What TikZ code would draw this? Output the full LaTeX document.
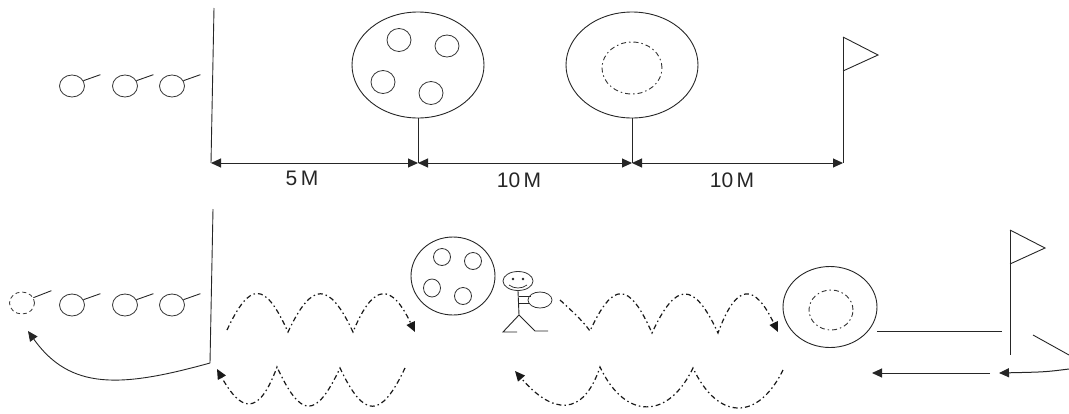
\documentclass[tikz,border=0pt]{standalone}
\usepackage{fontspec}
\setmainfont{Liberation Sans}
\usetikzlibrary{arrows.meta,shapes.geometric}
\begin{document}
\begin{tikzpicture}[x=1pt,y=-1pt,
  color=black!85,
  line width=0.9pt,
  ball/.style={ellipse, draw=black!80, line width=0.8pt, inner sep=0pt,
               minimum width=25pt, minimum height=22pt},
  ghost/.style={ball, dash pattern=on 4pt off 3pt},
  bigring/.style={ellipse, draw=black!85, line width=0.9pt, inner sep=0pt},
  cone/.style={ellipse, draw=black!80, line width=0.9pt, inner sep=0pt,
               dash pattern=on 5pt off 3pt on 1.5pt off 3pt},
  dots/.style={ellipse, draw=black!80, line width=0.8pt, inner sep=0pt},
  run/.style={line width=1.2pt, draw=black!90,
              dash pattern=on 5pt off 3pt on 1.5pt off 3pt},
  arrowend/.style={-{Triangle[length=10pt,width=9pt]}},
  dim/.style={{Triangle[length=10pt,width=9pt]}-{Triangle[length=10pt,width=9pt]},
              line width=1pt},
  lbl/.style={font=\fontsize{21}{21}\selectfont, text=black!85, inner sep=0pt}
]
\useasboundingbox (0,0) rectangle (1069,413);

% ---------- upper diagram: layout with distances ----------
\node[ball] (a1) at (72,86) {};
\node[ball] (a2) at (125,86) {};
\node[ball] (a3) at (172,86) {};
\draw (a1.25) -- ++(17,-6);
\draw (a2.25) -- ++(17,-6);
\draw (a3.25) -- ++(17,-6);

\coordinate (s1) at (211,163);
\coordinate (m1) at (418,163);
\coordinate (m2) at (632,163);
\coordinate (m3) at (843,163);
\coordinate (top1) at (214,8);
\draw (top1) -- (s1);

\node[bigring, minimum width=132pt, minimum height=106pt] (e1) at (418,65) {};
\node[dots, minimum width=24pt, minimum height=23pt] (c1) at (399,40) {};
\node[dots, minimum width=24pt, minimum height=22pt] (c2) at (447,46) {};
\node[dots, minimum width=24pt, minimum height=23pt] (c3) at (383,82) {};
\node[dots, minimum width=24pt, minimum height=23pt] (c4) at (431,93) {};
\draw (e1.south) -- (m1);

\node[bigring, minimum width=132pt, minimum height=106pt] (e2) at (632,65) {};
\node[cone, minimum width=60pt, minimum height=52pt] (k1) at (632,68) {};
\draw (e2.south) -- (m2);

\coordinate (f1) at (843,37);
\draw (f1) -- (m3);
\draw (f1) -- (878,55) -- (843,71);

\draw[dim] (s1) -- (m1);
\draw[dim] (m1) -- (m2);
\draw[dim] (m2) -- (m3);

\node[lbl] (d1) at (302,178) {5\,M};
\node[lbl] (d2) at (519,180) {10\,M};
\node[lbl] (d3) at (732,180) {10\,M};

% ---------- lower diagram: the drill ----------
\node[ghost] (g0) at (22,303) {};
\node[ball] (b1) at (72,305) {};
\node[ball] (b2) at (125,305) {};
\node[ball] (b3) at (172,305) {};
\draw (g0.25) -- ++(18,-7);
\draw (b1.25) -- ++(17,-6);
\draw (b2.25) -- ++(17,-6);
\draw (b3.25) -- ++(17,-6);

\coordinate (top2) at (213,209);
\coordinate (s2) at (210,363);
\draw (top2) -- (s2);
\coordinate (q) at (28,331);
\draw[arrowend] (s2) .. controls (120,388) and (70,390) .. (q);

% outward run, first leg
\coordinate (w1s) at (227,330);
\coordinate (w1e) at (415,332);
\draw[run, arrowend] (w1s) .. controls (250,281) and (265,281) .. (288,332)
  .. controls (312,281) and (329,281) .. (353,332)
  .. controls (374,281) and (392,284) .. (w1e);

% return run, first leg
\coordinate (r1s) at (405,368);
\coordinate (r1e) at (217,369);
\draw[run, arrowend] (r1s) .. controls (381,419) and (364,419) .. (340,368)
  .. controls (316,419) and (301,419) .. (277,367)
  .. controls (258,419) and (240,410) .. (r1e);

% ball station
\node[bigring, minimum width=84pt, minimum height=78pt] (e3) at (453,276) {};
\node[dots, minimum width=17pt, minimum height=17pt] (t1) at (442,257) {};
\node[dots, minimum width=17pt, minimum height=17pt] (t2) at (473,261) {};
\node[dots, minimum width=17pt, minimum height=18pt] (t3) at (432,288) {};
\node[dots, minimum width=17pt, minimum height=17pt] (t4) at (463,296) {};

% player carrying a ball
\node[dots, minimum width=30pt, minimum height=19pt] (head) at (518,281) {};
\fill[black!85] (513,279) circle (1.4pt) (523,279) circle (1.4pt);
\draw[line width=0.7pt] (509,285) .. controls (514,289) and (522,289) .. (527,285);
\coordinate (hip) at (519,315);
\draw (head.south) -- (hip);
\draw (hip) -- (503,332) -- (517,332);
\draw (hip) -- (535,331) -- (548,331);
\draw (519,296) -- (531,296);
\draw (519,303) -- (530,303);
\node[dots, minimum width=24pt, minimum height=16pt] (held) at (540,300) {};

% outward run, second leg
\coordinate (w2s) at (560,300);
\coordinate (w2e) at (778,332);
\draw[run, arrowend] (w2s) .. controls (572,311) and (582,320) .. (590,331)
  .. controls (613,281) and (629,281) .. (652,333)
  .. controls (676,281) and (694,281) .. (718,333)
  .. controls (737,281) and (755,284) .. (w2e);

% return run, second leg
\coordinate (r2s) at (783,370);
\coordinate (r2e) at (515,371);
\draw[run, arrowend] (r2s) .. controls (758,421) and (718,421) .. (693,368)
  .. controls (668,420) and (625,420) .. (600,367)
  .. controls (583,418) and (552,414) .. (r2e);

% cone station
\node[bigring, minimum width=94pt, minimum height=81pt] (e4) at (830,307) {};
\node[cone, minimum width=44pt, minimum height=40pt] (k2) at (831,310) {};

\coordinate (l1) at (877,331);
\coordinate (l2) at (1002,331);
\draw (l1) -- (l2);

\coordinate (f2) at (1010,230);
\coordinate (f2b) at (1010,355);
\draw (f2) -- (f2b);
\draw (f2) -- (1045,248) -- (1010,264);

\coordinate (x1) at (1033,335);
\coordinate (x2) at (1069,355);
\draw (x1) -- (x2);

\coordinate (y1) at (1069,369);
\coordinate (y2) at (999,373);
\draw[arrowend, line width=1pt] (y1) .. controls (1045,372) .. (y2);
\coordinate (z1) at (990,373);
\coordinate (z2) at (872,373);
\draw[arrowend, line width=1pt] (z1) -- (z2);
\end{tikzpicture}
\end{document}
